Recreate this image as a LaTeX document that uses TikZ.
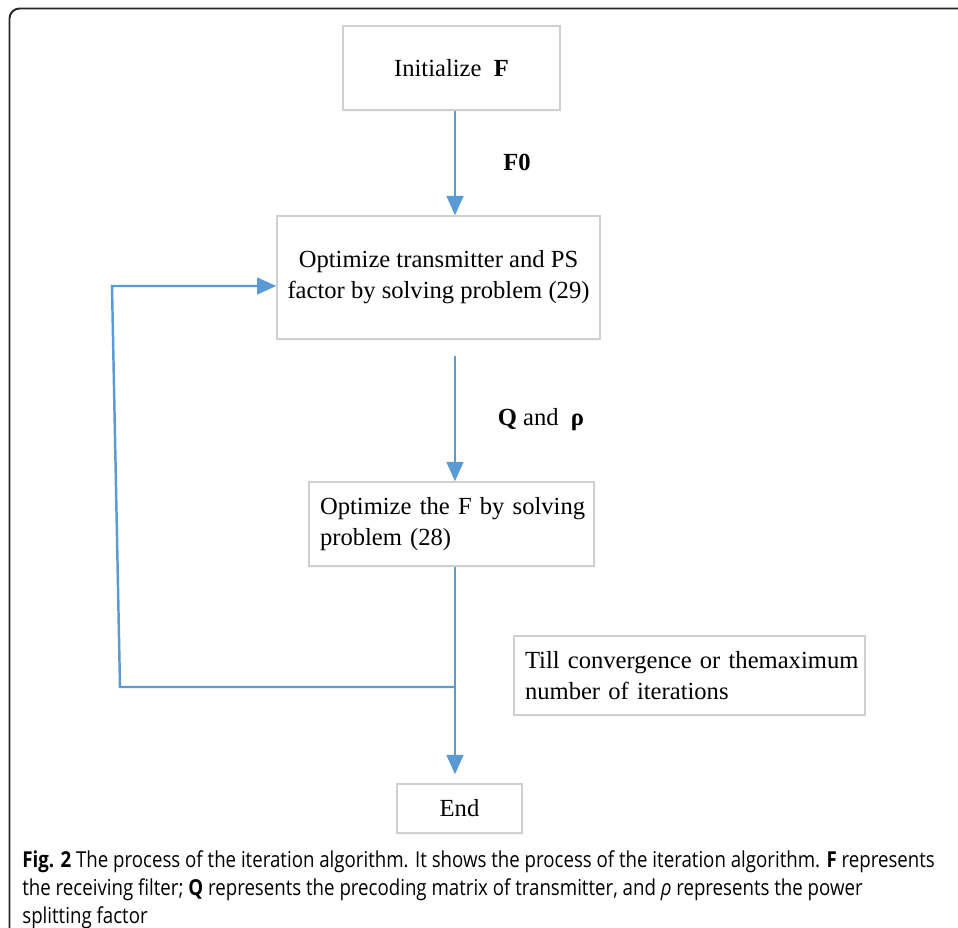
\documentclass[tikz,border=0pt]{standalone}
\usepackage{fontspec}
\setmainfont{Liberation Serif}
\newfontfamily\capfont[FakeStretch=0.85]{Open Sans}
\usetikzlibrary{arrows.meta, shadows}
\definecolor{flowblue}{HTML}{5B9BD5}
\definecolor{boxgray}{HTML}{CFCFCF}
\newcommand{\boxfont}{\fontsize{14}{17.5}\selectfont}

\begin{document}
\begin{tikzpicture}[x=0.02cm, y=-0.02cm, >={Triangle[length=11pt, width=9.5pt]},
	flow box/.style={draw=boxgray, line width=0.8pt, fill=white, inner sep=0pt,
		font=\boxfont, drop shadow={shadow xshift=0.6pt, shadow yshift=-0.9pt,
		opacity=0.18, fill=flowblue!35}},
	flow line/.style={line width=1.4pt, color=flowblue},
	flow label/.style={font=\boxfont, inner sep=0pt}]

	\useasboundingbox (0,0) rectangle (958,928);

	% Frame
	\draw [line width=1.1pt, color=black!85, rounded corners=5.7pt]
		(958,8.5) -- (9.5,8.5) -- (9.5,928);

	% Boxes
	\node [flow box, minimum width=4.34cm, minimum height=1.68cm] (init) at (451.5,68) {
		Initialize\ \ \textbf{F}
	};
	\node [flow box, minimum width=6.46cm, minimum height=2.46cm, align=center] (opt) at (438.5,277.5) {
		Optimize transmitter and PS\\factor by solving problem (29)
	};
	\node [flow box, text width=5.26cm, inner xsep=0.22cm, minimum height=1.68cm, align=left] (upd) at (451.5,524) {
		\mbox{Optimize the F by solving}\\\mbox{problem (28)}
	};
	\node [flow box, text width=6.58cm, inner xsep=0.22cm, minimum height=1.58cm, align=left] (till) at (689.5,675.5) {
		\mbox{Till convergence or themaximum}\\\mbox{number of iterations}
	};
	\node [flow box, minimum width=2.5cm, minimum height=0.98cm] (end) at (459.5,808.5) {
		End
	};

	% Labels
	\node [flow label] (f0) at (517,162) {\textbf{F0}};
	\node [flow label] (qrho) at (541,420) {\textbf{Q} and\ \ \textbf{ρ}};

	% Main line
	\coordinate (spine) at (455,0);
	\coordinate (join) at (455,687);
	\draw [->, flow line] (init.south -| spine) -- (opt.north -| spine);
	\draw [->, flow line, shorten <=0.32cm] (opt.south -| spine) -- (upd.north -| spine);
	\draw [->, flow line, shorten >=0.18cm] (upd.south -| spine) -- (end.north -| spine);

	% Loop back
	\coordinate (back-low) at (120,687);
	\coordinate (back-high) at (112,286);
	\draw [->, flow line] (join) -- (back-low) -- (back-high) -- (back-high -| opt.west);

	% Caption
	\node [anchor=north west, inner sep=0pt, align=left,
		font=\capfont\fontsize{12.5}{16}\selectfont] (caption) at (22,850) {
		\textbf{Fig. 2} The process of the iteration algorithm. It shows the process of the iteration algorithm. \textbf{F} represents\\
		the receiving filter; \textbf{Q} represents the precoding matrix of transmitter, and {\itshape ρ} represents the power\\
		splitting factor
	};

\end{tikzpicture}
\end{document}
